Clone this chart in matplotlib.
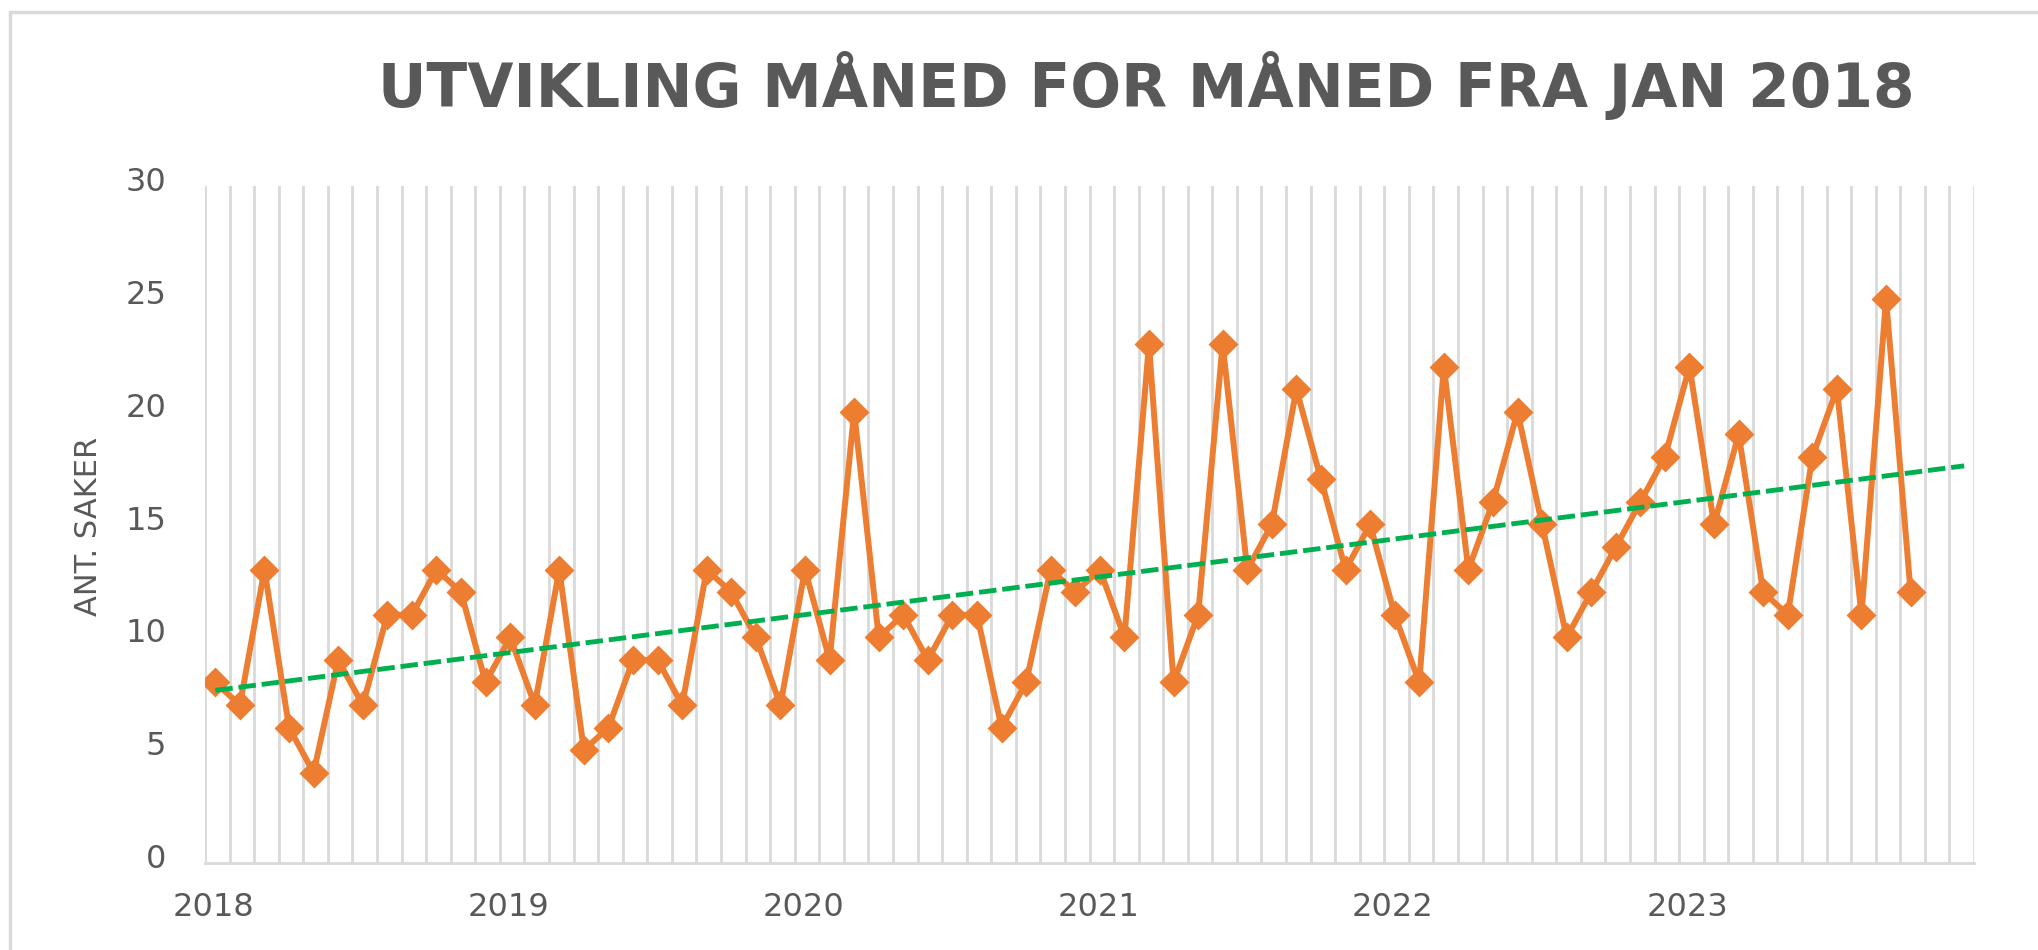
import matplotlib.pyplot as plt
import numpy as np
from matplotlib.patches import Rectangle
from matplotlib.transforms import ScaledTranslation

# antall saker per måned, jan 2018 - okt 2023
saker = [8, 7, 13, 6, 4, 9, 7, 11, 11, 13, 12, 8,
         10, 7, 13, 5, 6, 9, 9, 7, 13, 12, 10, 7,
         13, 9, 20, 10, 11, 9, 11, 11, 6, 8, 13, 12,
         13, 10, 23, 8, 11, 23, 13, 15, 21, 17, 13, 15,
         11, 8, 22, 13, 16, 20, 15, 10, 12, 14, 16, 18,
         22, 15, 19, 12, 11, 18, 21, 11, 25, 12]
aar = ['2018', '2019', '2020', '2021', '2022', '2023']
y_ticks = [0, 5, 10, 15, 20, 25, 30]

grey_txt = '#595959'
grid_col = '#D9D9D9'

x = np.arange(len(saker)) + 0.42
coef = np.polyfit(x, saker, 1)
x_trend = np.array([x[0], 71.6])
y_trend = np.polyval(coef, x_trend)

fig = plt.figure(figsize=(20.38, 9.5), dpi=100)
ax = fig.add_axes([0.1006, 0.0916, 0.8680, 0.7126])

ax.plot(x, saker, color='#ED7D31', lw=4.3, marker='D', ms=13,
        mew=2, mec='#ED7D31', mfc='#ED7D31', zorder=3)
ax.plot(x_trend, y_trend, color='#00B050', lw=3.5, dashes=(3.6, 1.2), zorder=4)

ax.set_xlim(0, 72)
ax.set_ylim(0, 30)
ax.set_xticks(np.arange(0, 73), minor=True)
ax.set_xticks(np.arange(len(aar)) * 12 + 0.35)
ax.set_xticklabels(aar)
ax.set_yticks(y_ticks)
ax.grid(True, axis='x', which='minor', color=grid_col, lw=2)
ax.tick_params(axis='both', which='both', length=0, labelsize=23,
               labelcolor=grey_txt)
ax.tick_params(axis='x', pad=21)
ax.tick_params(axis='y', pad=28)
for lab in ax.get_yticklabels():
    lab.set_transform(lab.get_transform() +
                      ScaledTranslation(0, 5 / 72, fig.dpi_scale_trans))

for s in ['top', 'right', 'left']:
    ax.spines[s].set_visible(False)
ax.spines['bottom'].set_color(grid_col)
ax.spines['bottom'].set_linewidth(2)

fig.text(0.0432, 0.446, 'ANT. SAKER', rotation=90, ha='center', va='center',
         fontsize=22, color=grey_txt)
fig.text(0.5625, 0.9105, 'UTVIKLING MÅNED FOR MÅNED FRA JAN 2018',
         ha='center', va='center', fontsize=43, fontweight='bold',
         color=grey_txt)

fig.patches.append(Rectangle((0.0049, -0.1), 1.2, 1.0874, fill=False,
                             ec=grid_col, lw=2.5, transform=fig.transFigure))

fig.savefig('out.png', dpi=100)
